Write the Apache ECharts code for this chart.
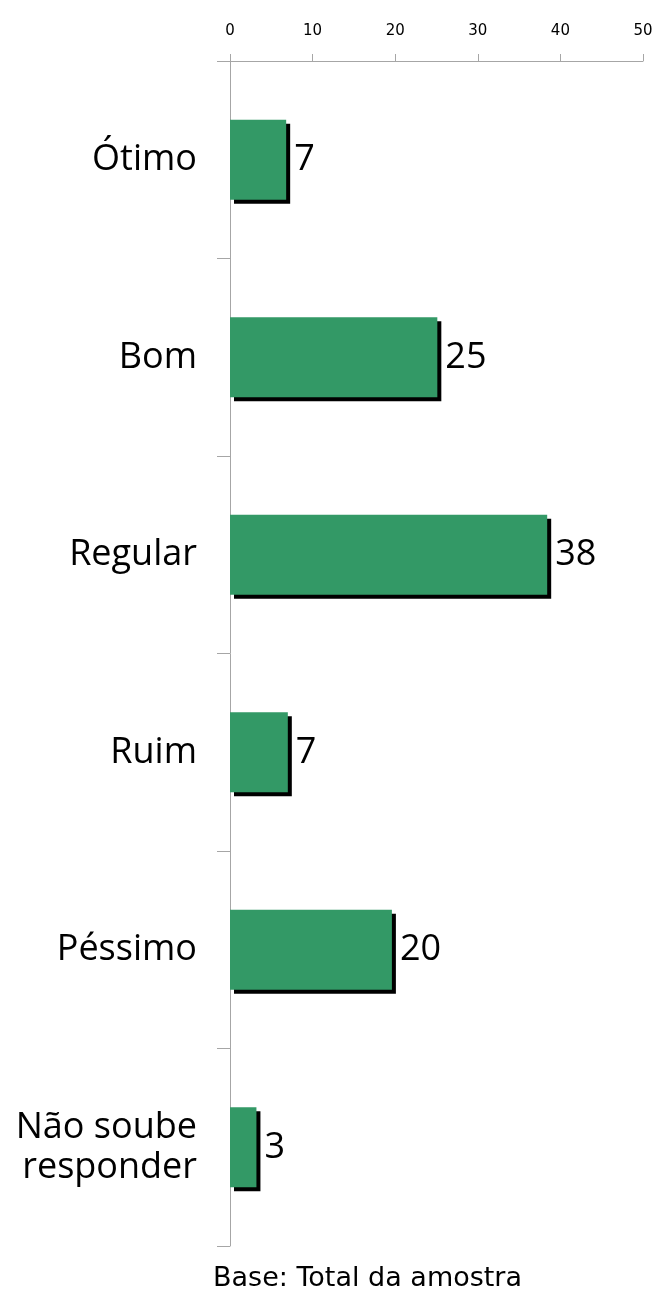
<!DOCTYPE html>
<html><head><meta charset="utf-8">
<script src="https://cdn.jsdelivr.net/npm/echarts@6/dist/echarts.min.js"></script>
<style>html,body{margin:0;padding:0;background:#fff}#c{width:656px;height:1295px}</style>
</head><body><div id="c"></div>
<script>
const categories = ['Ótimo', 'Bom', 'Regular', 'Ruim', 'Péssimo', 'Não soube\nresponder'];
const values = [6.8, 25.1, 38.4, 7.0, 19.6, 3.2];
const xTicks = [0, 10, 20, 30, 40, 50];
const footnote = 'Base: Total da amostra';

const chart = echarts.init(document.getElementById('c'), null, {renderer: 'canvas'});
const labelFont = '"Open Sans", sans-serif';
chart.setOption({
  animation: false,
  backgroundColor: '#fff',
  grid: {left: 230, right: 13, top: 61, bottom: 49, containLabel: false},
  xAxis: {
    type: 'value', position: 'top', min: xTicks[0], max: xTicks[xTicks.length - 1], interval: 10,
    axisLine: {show: true, lineStyle: {color: '#a6a6a6', width: 1}},
    axisTick: {show: true, length: 7, lineStyle: {color: '#a6a6a6'}},
    splitLine: {show: false},
    axisLabel: {fontFamily: '"DejaVu Sans", sans-serif', fontSize: 15, color: '#000', margin: 22}
  },
  yAxis: {
    type: 'category', inverse: true, data: categories,
    axisLine: {show: true, lineStyle: {color: '#a6a6a6', width: 1}},
    axisTick: {show: true, length: 13, lineStyle: {color: '#a6a6a6'}},
    axisLabel: {fontFamily: labelFont, fontSize: 36, color: '#000', margin: 33, lineHeight: 40, align: 'right', padding: [5, 0, 0, 0]}
  },
  series: [{
    type: 'bar', data: values, barWidth: 80,
    itemStyle: {color: '#339966', shadowColor: '#000', shadowOffsetX: 4, shadowOffsetY: 4, shadowBlur: 0},
    label: {show: true, position: 'right', distance: 8, fontFamily: labelFont, fontSize: 36, color: '#000',
      padding: [4, 0, 0, 0], formatter: p => String(Math.round(p.value))}
  }],
  graphic: [{
    type: 'text', left: 213, top: 1265,
    style: {text: footnote, font: '27px "DejaVu Sans", sans-serif', fill: '#000'}
  }]
});
</script></body></html>
